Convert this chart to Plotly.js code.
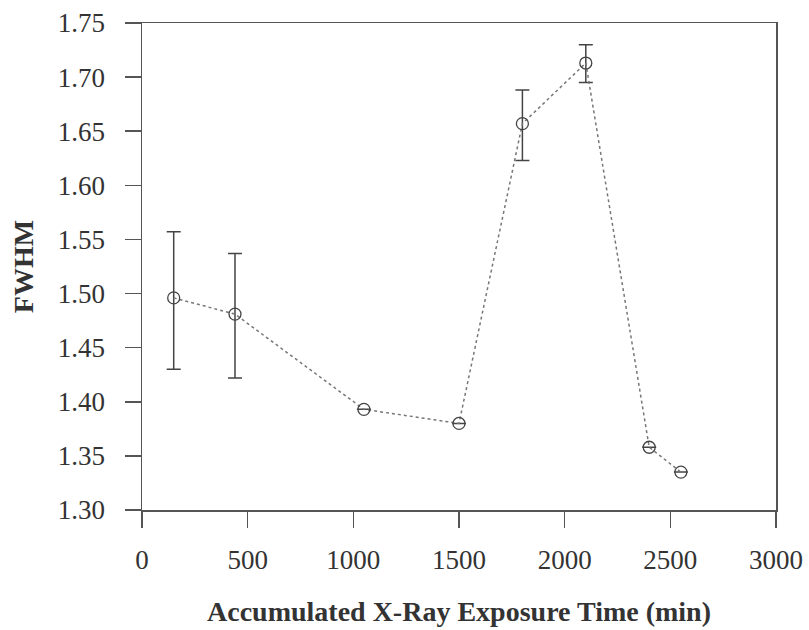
<!DOCTYPE html>
<html>
<head>
<meta charset="utf-8">
<script src="https://cdn.plot.ly/plotly-3.0.1.min.js"></script>
<style>html,body{margin:0;padding:0;background:#fff;}#chart{width:809px;height:630px;}</style>
</head>
<body>
<div id="chart"></div>
<script>
const exposureTime = [150, 440, 1050, 1500, 1800, 2100, 2400, 2550];
const fwhm = [1.496, 1.481, 1.393, 1.380, 1.657, 1.713, 1.358, 1.335];
const errUpper = [0.061, 0.056, null, null, 0.031, 0.017, null, null];
const errLower = [0.066, 0.059, null, null, 0.034, 0.018, null, null];
const xTicks = [0, 500, 1000, 1500, 2000, 2500, 3000];
const yTicks = [1.30, 1.35, 1.40, 1.45, 1.50, 1.55, 1.60, 1.65, 1.70, 1.75];

const serif = "Liberation Serif, Times New Roman, serif";
const ink = "#444";

const trace = {
  x: exposureTime,
  y: fwhm,
  type: "scatter",
  mode: "lines+markers",
  line: {color: "#777", width: 1.5, dash: "dot"},
  marker: {symbol: "circle-open", size: 12, color: ink, line: {color: ink, width: 1.3}},
  error_y: {
    type: "data",
    symmetric: false,
    array: errUpper.map(v => v === null ? 0 : v),
    arrayminus: errLower.map(v => v === null ? 0 : v),
    visible: true,
    color: ink,
    thickness: 1.5,
    width: 7
  },
  showlegend: false
};

const layout = {
  width: 809,
  height: 630,
  margin: {l: 142, r: 33, t: 23, b: 120},
  paper_bgcolor: "#fff",
  plot_bgcolor: "#fff",
  font: {family: serif, color: "#333"},
  xaxis: {
    range: [0, 3000],
    tickvals: xTicks,
    ticktext: xTicks.map(String),
    ticks: "outside",
    ticklen: 16,
    tickwidth: 1.5,
    tickcolor: "#555",
    ticklabelstandoff: 9,
    showline: true,
    linecolor: "#555",
    linewidth: 1.5,
    mirror: true,
    showgrid: false,
    zeroline: false,
    tickfont: {family: serif, size: 27, color: "#333"},
    title: {text: "<b>Accumulated X-Ray Exposure Time (min)</b>", font: {family: serif, size: 28, color: "#333"}, standoff: 27}
  },
  yaxis: {
    range: [1.30, 1.75],
    tickvals: yTicks,
    ticktext: yTicks.map(v => v.toFixed(2)),
    ticks: "outside",
    ticklen: 16,
    tickwidth: 1.5,
    tickcolor: "#555",
    ticklabelstandoff: 14,
    showline: true,
    linecolor: "#555",
    linewidth: 1.5,
    mirror: true,
    showgrid: false,
    zeroline: false,
    tickfont: {family: serif, size: 27, color: "#333"},
    title: {text: "<b>FWHM</b>", font: {family: serif, size: 28, color: "#333"}, standoff: 16}
  }
};

Plotly.newPlot("chart", [trace], layout, {staticPlot: true, displayModeBar: false});
</script>
</body>
</html>
